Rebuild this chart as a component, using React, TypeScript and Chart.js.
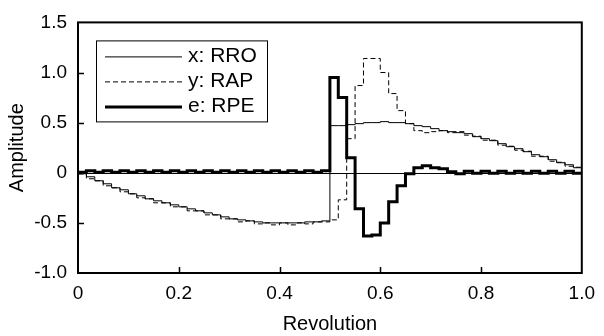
import { useEffect, useRef } from "react";
import { Chart, registerables } from "chart.js";

Chart.register(...registerables);

// ---- data (60 bins over one revolution) ----
const xTickValues = [0, 0.2, 0.4, 0.6, 0.8, 1.0];
const yTickValues = [-1.0, -0.5, 0, 0.5, 1.0, 1.5];
const seriesLabels = ["x: RRO", "y: RAP", "e: RPE"];

const rro = [
  -0.01, -0.04, -0.08, -0.11, -0.15, -0.17, -0.21, -0.23, -0.26, -0.28,
  -0.30, -0.32, -0.34, -0.36, -0.38, -0.40, -0.42, -0.44, -0.46, -0.47,
  -0.48, -0.49, -0.50, -0.50, -0.50, -0.50, -0.50, -0.49, -0.49, -0.48,
  0.47, 0.47, 0.48, 0.49, 0.50, 0.50, 0.51, 0.50, 0.50, 0.49,
  0.47, 0.46, 0.44, 0.42, 0.41, 0.40, 0.39, 0.36, 0.34, 0.32,
  0.29, 0.26, 0.24, 0.21, 0.18, 0.16, 0.13, 0.10, 0.08, 0.05,
];

const rap = [
  -0.01, -0.06, -0.08, -0.13, -0.15, -0.19, -0.21, -0.25, -0.26, -0.30,
  -0.30, -0.34, -0.34, -0.38, -0.38, -0.42, -0.42, -0.46, -0.46, -0.49,
  -0.48, -0.51, -0.50, -0.52, -0.50, -0.52, -0.50, -0.51, -0.49, -0.49,
  -0.47, -0.27, 0.34, 0.87, 1.14, 1.14, 1.00, 0.79, 0.62, 0.49,
  0.42, 0.40, 0.41, 0.42, 0.40, 0.41, 0.375, 0.365, 0.325, 0.325,
  0.275, 0.265, 0.225, 0.215, 0.165, 0.165, 0.115, 0.105, 0.065, 0.055,
];

const rpe = [
  0.005, 0.02, 0.005, 0.02, 0.005, 0.02, 0.005, 0.02, 0.005, 0.02,
  0.005, 0.02, 0.005, 0.02, 0.005, 0.02, 0.005, 0.02, 0.005, 0.02,
  0.005, 0.02, 0.005, 0.02, 0.005, 0.02, 0.005, 0.02, 0.005, 0.02,
  0.95, 0.75, 0.15, -0.36, -0.63, -0.62, -0.50, -0.29, -0.13, -0.01,
  0.05, 0.07, 0.05, 0.04, 0.01, -0.01, 0.015, -0.005, 0.015, -0.005,
  0.015, -0.005, 0.015, -0.005, 0.015, -0.005, 0.015, -0.005, 0.015, -0.005,
];

const FONT = "'Liberation Sans', Arial, Helvetica, sans-serif";

function toSteps(values: number[]) {
  const n = values.length;
  const pts = values.map((v, i) => ({ x: i / n, y: v }));
  pts.push({ x: 1, y: values[n - 1] });
  return pts;
}

function fmt(v: number) {
  if (Math.abs(v) < 1e-9) return "0";
  return v.toFixed(1);
}

const framePlugin = {
  id: "frameAndTicks",
  beforeDatasetsDraw(chart: any) {
    const { ctx, chartArea, scales } = chart;
    const y0 = Math.round(scales.y.getPixelForValue(0)) + 0.5;
    ctx.save();
    ctx.strokeStyle = "#000";
    ctx.lineWidth = 1;
    ctx.beginPath();
    ctx.moveTo(chartArea.left, y0);
    ctx.lineTo(chartArea.right, y0);
    ctx.stroke();
    ctx.restore();
  },
  afterDatasetsDraw(chart: any) {
    const { ctx, chartArea, scales } = chart;
    const { left, right, top, bottom } = chartArea;
    ctx.save();
    ctx.strokeStyle = "#000";
    ctx.lineWidth = 1.5;
    ctx.beginPath();
    xTickValues.slice(1, -1).forEach((v) => {
      const px = Math.round(scales.x.getPixelForValue(v)) + 0.5;
      ctx.moveTo(px, bottom);
      ctx.lineTo(px, bottom - 6);
    });
    yTickValues.slice(1, -1).forEach((v) => {
      const py = Math.round(scales.y.getPixelForValue(v)) + 0.5;
      ctx.moveTo(left, py);
      ctx.lineTo(left + 6, py);
    });
    ctx.stroke();
    ctx.lineWidth = 2;
    ctx.strokeRect(left, top, right - left, bottom - top);
    ctx.restore();
  },
  afterDraw(chart: any) {
    const { ctx, chartArea } = chart;
    const bx = chartArea.left + 18;
    const by = chartArea.top + 18;
    const bw = 171;
    const bh = 81;
    ctx.save();
    ctx.fillStyle = "#fff";
    ctx.fillRect(bx, by, bw, bh);
    ctx.strokeStyle = "#000";
    ctx.lineWidth = 1;
    ctx.strokeRect(bx + 0.5, by + 0.5, bw, bh);
    const styles = [
      { w: 1, dash: [] as number[] },
      { w: 1, dash: [5, 3] },
      { w: 3, dash: [] as number[] },
    ];
    ctx.font = `21px ${FONT}`;
    ctx.textBaseline = "middle";
    ctx.fillStyle = "#000";
    seriesLabels.forEach((lab, i) => {
      const ry = by + 16 + i * 25;
      ctx.lineWidth = styles[i].w;
      ctx.setLineDash(styles[i].dash);
      ctx.beginPath();
      ctx.moveTo(bx + 9, ry + 0.5);
      ctx.lineTo(bx + 86, ry + 0.5);
      ctx.stroke();
      ctx.setLineDash([]);
      ctx.fillText(lab, bx + 92, ry);
    });
    ctx.restore();
  },
};

export default function App() {
  const ref = useRef<HTMLCanvasElement | null>(null);

  useEffect(() => {
    if (!ref.current) return;
    const chart = new Chart(ref.current, {
      type: "line",
      data: {
        datasets: [
          {
            label: seriesLabels[0],
            data: toSteps(rro),
            borderColor: "#000",
            borderWidth: 1,
            stepped: "before",
            pointRadius: 0,
            fill: false,
            order: 1,
          },
          {
            label: seriesLabels[1],
            data: toSteps(rap),
            borderColor: "#000",
            borderWidth: 1,
            borderDash: [5, 3],
            stepped: "before",
            pointRadius: 0,
            fill: false,
            order: 2,
          },
          {
            label: seriesLabels[2],
            data: toSteps(rpe),
            borderColor: "#000",
            borderWidth: 3,
            stepped: "before",
            pointRadius: 0,
            fill: false,
            order: 0,
            borderJoinStyle: "miter",
          },
        ],
      },
      options: {
        responsive: false,
        animation: false,
        parsing: false,
        layout: { padding: { left: 0, right: 17, top: 19, bottom: 0 } },
        plugins: {
          legend: { display: false },
          tooltip: { enabled: false },
        },
        scales: {
          x: {
            type: "linear",
            min: 0,
            max: 1,
            afterFit: (s: any) => {
              s.height = 63;
            },
            afterBuildTicks: (s: any) => {
              s.ticks = xTickValues.map((v) => ({ value: v }));
            },
            grid: { display: false, drawTicks: false },
            border: { display: false },
            ticks: {
              padding: 9,
              color: "#000",
              font: { family: FONT, size: 19 },
              maxRotation: 0,
              callback: (v: any) => fmt(Number(v)),
            },
            title: {
              display: true,
              text: "Revolution",
              color: "#000",
              font: { family: FONT, size: 20 },
              padding: { top: 0, bottom: 0 },
            },
          },
          y: {
            type: "linear",
            min: -1,
            max: 1.5,
            afterFit: (s: any) => {
              s.width = 78;
            },
            afterBuildTicks: (s: any) => {
              s.ticks = yTickValues.map((v) => ({ value: v }));
            },
            grid: { display: false, drawTicks: false },
            border: { display: false },
            ticks: {
              padding: 11,
              color: "#000",
              font: { family: FONT, size: 19 },
              callback: (v: any) => fmt(Number(v)),
            },
            title: {
              display: true,
              text: "Amplitude",
              color: "#000",
              font: { family: FONT, size: 20 },
              padding: { top: 5, bottom: 0 },
            },
          },
        },
      },
      plugins: [framePlugin],
    });
    return () => chart.destroy();
  }, []);

  return (
    <div style={{ position: "absolute", left: 0, top: 0, width: 604, height: 336, background: "#fff" }}>
      <canvas ref={ref} width={604} height={336} style={{ display: "block" }} />
    </div>
  );
}
